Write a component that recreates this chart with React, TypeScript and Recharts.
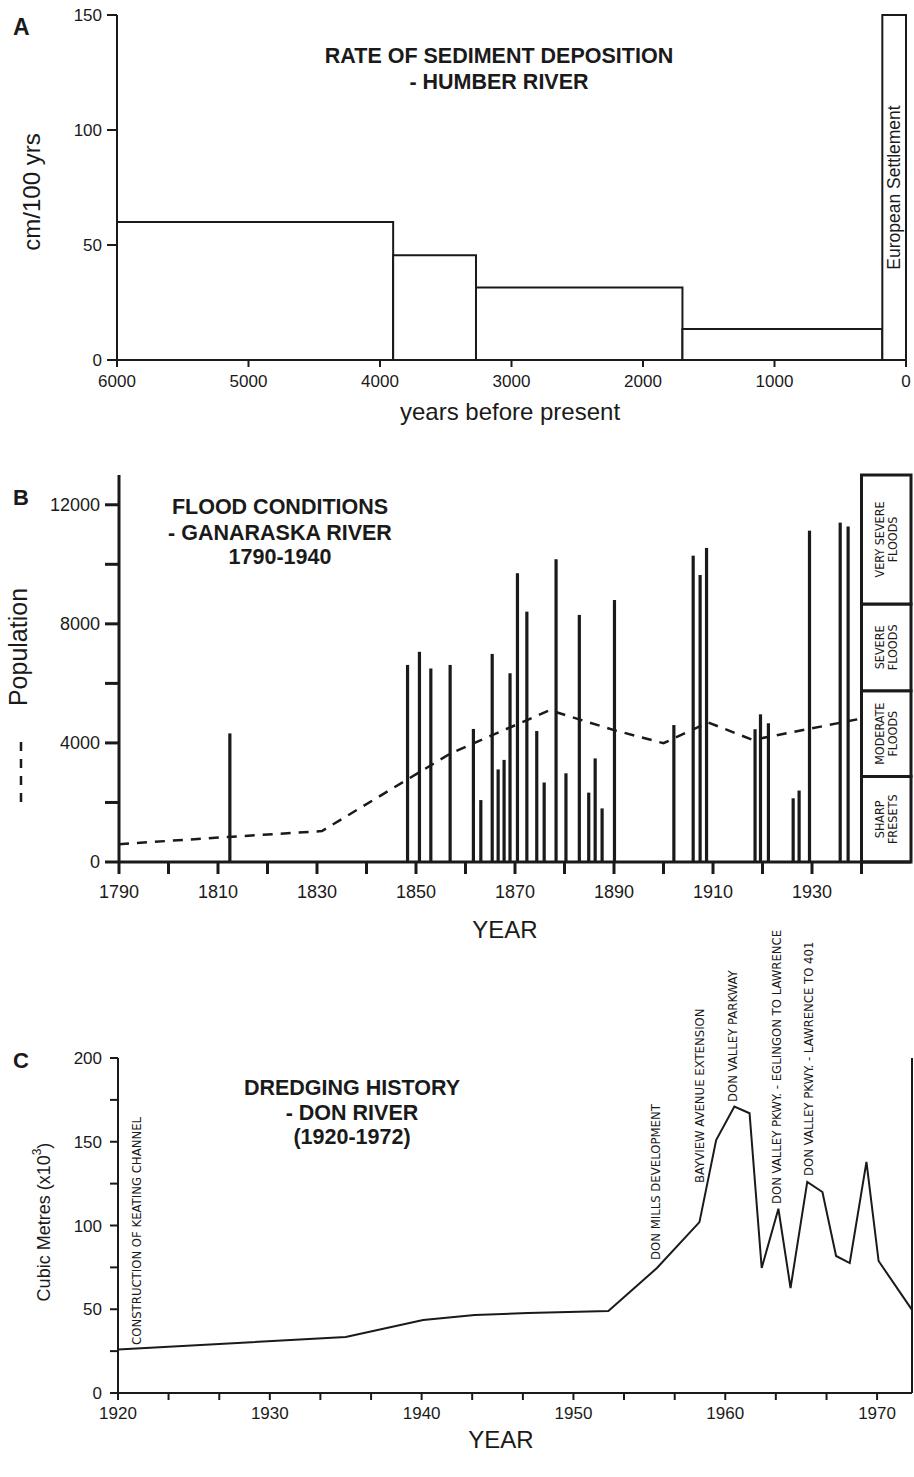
import React from 'react';
import {
  ComposedChart,
  XAxis,
  YAxis,
  Bar,
  Line,
  ReferenceArea,
  ReferenceDot,
  ReferenceLine,
} from 'recharts';

const FONT = '"Liberation Sans", Arial, Helvetica, sans-serif';
const NARROW = '"Liberation Sans Narrow", "DejaVu Sans Condensed", "Liberation Sans", Arial, sans-serif';
const INK = '#1a1a1a';

// Panel A - rate of sediment deposition, Humber River
const periodStart = [6000, 3900, 3270, 1700, 180];
const periodEnd = [3900, 3270, 1700, 180, 0];
const depositionRate = [60, 45.5, 31.5, 13.5, 150];
const periodLabel = ['', '', '', '', 'European Settlement'];
const yearsBpTicks = [0, 1000, 2000, 3000, 4000, 5000, 6000];
const rateTicks = [0, 50, 100, 150];

// Panel B - flood conditions, Ganaraska River
const floodYears = [
  1812.4, 1848.3, 1850.7, 1853, 1856.9, 1861.6, 1863.1, 1865.4, 1866.6, 1867.8, 1869, 1870.5,
  1872.4, 1874.4, 1875.9, 1878.3, 1880.3, 1883, 1884.9, 1886.2, 1887.6, 1890.1, 1902.1, 1906,
  1907.4, 1908.7, 1918.5, 1919.6, 1921.2, 1926.2, 1927.4, 1929.5, 1935.7, 1937.3,
];
const floodValues = [
  4320, 6620, 7060, 6500, 6620, 4470, 2080, 6990, 3110, 3430, 6340, 9700,
  8410, 4400, 2670, 10170, 2980, 8300, 2330, 3480, 1800, 8800, 4600, 10290,
  9640, 10550, 4460, 4960, 4660, 2140, 2400, 11130, 11400, 11270,
];
const popYears = [1790, 1812, 1831, 1857, 1877, 1890, 1900, 1909, 1918, 1930, 1940];
const popValues = [600, 840, 1040, 3650, 5100, 4430, 3990, 4690, 4100, 4490, 4820];
const classLow = [0, 2870, 5750, 8670];
const classHigh = [2870, 5750, 8670, 13000];
const classLine1 = ['SHARP', 'MODERATE', 'SEVERE', 'VERY SEVERE'];
const classLine2 = ['FRESETS', 'FLOODS', 'FLOODS', 'FLOODS'];
const yearTicksB = [1790, 1800, 1810, 1820, 1830, 1840, 1850, 1860, 1870, 1880, 1890, 1900, 1910, 1920, 1930, 1940];
const popTicks = [0, 2000, 4000, 6000, 8000, 10000, 12000];

// Panel C - dredging history, Don River
const dredgeYears = [
  1920, 1935, 1940.1, 1943.5, 1947, 1952.3, 1955.5, 1958.3, 1959.4, 1960.6, 1961.6,
  1962.4, 1963.5, 1964.3, 1965.4, 1966.4, 1967.3, 1968.2, 1969.3, 1970.1, 1972.3,
];
const dredgeVolume = [
  26, 33.4, 43.6, 46.5, 47.8, 49, 74.6, 102, 151, 171, 167,
  74.6, 110, 62.7, 126, 120, 81.8, 77.6, 138, 78.8, 49.6,
];
const eventYears = [1921.25, 1955.4, 1958.3, 1960.5, 1963.4, 1965.5];
const eventBase = [28.7, 79.4, 125.4, 173.7, 112.8, 129.6];
const eventText = [
  'CONSTRUCTION OF KEATING CHANNEL',
  'DON MILLS DEVELOPMENT',
  'BAYVIEW AVENUE EXTENSION',
  'DON VALLEY PARKWAY',
  'DON VALLEY PKWY. - EGLINGON TO LAWRENCE',
  'DON VALLEY PKWY. - LAWRENCE TO 401',
];
const yearTicksC = [
  1920, 1923.33, 1926.67, 1930, 1933.33, 1936.67, 1940, 1943.33, 1946.67, 1950,
  1953.33, 1956.67, 1960, 1963.33, 1966.67, 1970,
];
const volumeTicks = [0, 25, 50, 75, 100, 125, 150, 175, 200];

const rowsA = periodStart.map((s, i) => ({ start: s, end: periodEnd[i], rate: depositionRate[i] }));

const rowsB = [
  ...floodYears.map((y, i) => ({ year: y, flood: floodValues[i] })),
  ...popYears.map((y, i) => ({ year: y, pop: popValues[i] })),
].sort((a, b) => a.year - b.year);

const rowsC = dredgeYears.map((y, i) => ({ year: y, volume: dredgeVolume[i] }));

const tickStyle = (size: number) => ({ fill: INK, fontSize: size, fontFamily: FONT });

// flood events are drawn as thick vertical strokes centred on the year
const FloodStroke = (props: any) => {
  const { x, y, width, height } = props;
  if (height == null || isNaN(height) || height <= 0) return null;
  const cx = x + width / 2;
  return <rect x={cx - 1.6} y={y} width={3.2} height={height} fill={INK} />;
};

// two-line rotated caption inside the flood class boxes
const ClassLabel = (props: any) => {
  const { viewBox, index } = props;
  const cx = viewBox.x + viewBox.width / 2;
  const cy = viewBox.y + viewBox.height / 2;
  return (
    <g>
      <text x={cx - 7} y={cy} transform={`rotate(-90 ${cx - 7} ${cy})`} textAnchor="middle"
        dominantBaseline="central" fontSize={12.5} fontFamily={NARROW} fill={INK}>
        {classLine1[index]}
      </text>
      <text x={cx + 6} y={cy} transform={`rotate(-90 ${cx + 6} ${cy})`} textAnchor="middle"
        dominantBaseline="central" fontSize={12.5} fontFamily={NARROW} fill={INK}>
        {classLine2[index]}
      </text>
    </g>
  );
};

// vertical event caption, reading upwards from the anchor point
const EventLabel = (props: any) => {
  const { viewBox, text } = props;
  const x = viewBox.x + (viewBox.width || 0) / 2;
  const y = viewBox.y + (viewBox.height || 0) / 2;
  return (
    <text x={x} y={y} transform={`rotate(-90 ${x} ${y})`} textAnchor="start"
      dominantBaseline="central" fontSize={13} fontFamily={NARROW} fill={INK}>
      {text}
    </text>
  );
};

const App = () => {
  return (
    <div style={{ position: 'absolute', left: 0, top: 0, width: 914, height: 1477, background: '#fff' }}>
      {/* A */}
      <div style={{ position: 'absolute', left: 0, top: 0 }}>
        <ComposedChart width={914} height={440} data={rowsA} margin={{ top: 15, right: 8, bottom: 50, left: 0 }}>
          <XAxis type="number" dataKey="start" domain={[0, 6000]} reversed ticks={yearsBpTicks} interval={0}
            height={30} tickSize={7} tickMargin={8} tick={tickStyle(17)}
            axisLine={{ stroke: INK, strokeWidth: 2 }} tickLine={{ stroke: INK, strokeWidth: 2 }} />
          <YAxis type="number" domain={[0, 150]} ticks={rateTicks} interval={0} width={117}
            tickSize={10} tickMargin={5} tick={tickStyle(17)}
            axisLine={{ stroke: INK, strokeWidth: 2 }} tickLine={{ stroke: INK, strokeWidth: 2 }} />
          {periodStart.map((s, i) => (
            <ReferenceArea key={`p-${i}`} x1={s} x2={periodEnd[i]} y1={0} y2={depositionRate[i]}
              fill="#fff" fillOpacity={1} stroke={INK} strokeWidth={2}
              label={periodLabel[i] ? { value: periodLabel[i], angle: -90, position: 'center', fill: INK, fontSize: 17.5, fontFamily: FONT } : undefined} />
          ))}
          <Line dataKey="rate" stroke="none" dot={false} isAnimationActive={false} />
        </ComposedChart>
      </div>

      {/* B */}
      <div style={{ position: 'absolute', left: 0, top: 440 }}>
        <ComposedChart width={914} height={510} data={rowsB} margin={{ top: 35, right: 3, bottom: 58, left: 0 }}>
          <XAxis type="number" dataKey="year" domain={[1790, 1950]} ticks={yearTicksB} interval={0}
            tickFormatter={(v: number) => ((v - 1790) % 20 === 0 && v <= 1930 ? String(v) : '')}
            height={30} tickSize={12} tickMargin={11} tick={tickStyle(18)}
            axisLine={{ stroke: INK, strokeWidth: 3 }} tickLine={{ stroke: INK, strokeWidth: 3 }} />
          <YAxis type="number" domain={[0, 13000]} ticks={popTicks} interval={0} width={119}
            tickFormatter={(v: number) => (v % 4000 === 0 ? String(v) : '')}
            tickSize={14} tickMargin={5} tick={tickStyle(18)}
            axisLine={{ stroke: INK, strokeWidth: 3 }} tickLine={{ stroke: INK, strokeWidth: 3 }} />
          {classLow.map((lo, i) => (
            <ReferenceArea key={`c-${i}`} x1={1940} x2={1950} y1={lo} y2={classHigh[i]}
              fill="#fff" fillOpacity={1} stroke={INK} strokeWidth={3}
              label={<ClassLabel index={i} />} />
          ))}
          <Bar dataKey="flood" fill={INK} barSize={3} shape={<FloodStroke />} isAnimationActive={false} />
          <Line dataKey="pop" type="linear" connectNulls stroke={INK} strokeWidth={2.5}
            strokeDasharray="10 8" dot={false} isAnimationActive={false} />
        </ComposedChart>
      </div>

      {/* C */}
      <div style={{ position: 'absolute', left: 0, top: 930 }}>
        <ComposedChart width={914} height={547} data={rowsC} margin={{ top: 128, right: 2, bottom: 54, left: 0 }}>
          <XAxis type="number" dataKey="year" domain={[1920, 1972.3]} ticks={yearTicksC} interval={0}
            tickFormatter={(v: number) => (Math.abs(v - Math.round(v / 10) * 10) < 0.01 ? String(Math.round(v)) : '')}
            height={30} tickSize={7} tickMargin={7} tick={tickStyle(17)}
            axisLine={{ stroke: INK, strokeWidth: 2 }} tickLine={{ stroke: INK, strokeWidth: 2 }} />
          <YAxis type="number" domain={[0, 200]} ticks={volumeTicks} interval={0} width={118}
            tickFormatter={(v: number) => (v % 50 === 0 ? String(v) : '')}
            tickSize={8} tickMargin={8} tick={tickStyle(17)}
            axisLine={{ stroke: INK, strokeWidth: 2 }} tickLine={{ stroke: INK, strokeWidth: 2 }} />
          <ReferenceLine x={1972.3} stroke={INK} strokeWidth={2} />
          <Line dataKey="volume" type="linear" stroke={INK} strokeWidth={2} dot={false} isAnimationActive={false} />
          {eventYears.map((y, i) => (
            <ReferenceDot key={`e-${i}`} x={y} y={eventBase[i]} r={0} fill="none" stroke="none"
              label={<EventLabel text={eventText[i]} />} />
          ))}
        </ComposedChart>
      </div>

      {/* titles, panel letters, axis titles */}
      <svg width={914} height={1477} style={{ position: 'absolute', left: 0, top: 0, pointerEvents: 'none' }}
        fontFamily={FONT} fill={INK}>
        <text x={13} y={35} fontSize={23} fontWeight="bold">A</text>
        <text x={499} y={63} fontSize={21.5} fontWeight="bold" textAnchor="middle">RATE OF SEDIMENT DEPOSITION</text>
        <text x={499} y={89} fontSize={21.5} fontWeight="bold" textAnchor="middle">- HUMBER RIVER</text>
        <text x={31} y={192} fontSize={24} textAnchor="middle" dominantBaseline="central"
          transform="rotate(-90 31 192)">cm/100 yrs</text>
        <text x={510} y={420} fontSize={24} textAnchor="middle">years before present</text>

        <text x={13} y={505} fontSize={22} fontWeight="bold">B</text>
        <text x={280} y={514} fontSize={21.5} fontWeight="bold" textAnchor="middle">FLOOD CONDITIONS</text>
        <text x={280} y={540} fontSize={21.5} fontWeight="bold" textAnchor="middle">- GANARASKA RIVER</text>
        <text x={280} y={564} fontSize={21.5} fontWeight="bold" textAnchor="middle">1790-1940</text>
        <text x={18} y={647} fontSize={25} textAnchor="middle" dominantBaseline="central"
          transform="rotate(-90 18 647)">Population</text>
        <line x1={21} y1={742} x2={21} y2={806} stroke={INK} strokeWidth={2.5} strokeDasharray="9 8" />
        <text x={505} y={938} fontSize={24} textAnchor="middle">YEAR</text>

        <text x={13} y={1068} fontSize={22} fontWeight="bold">C</text>
        <text x={352} y={1095} fontSize={21.5} fontWeight="bold" textAnchor="middle">DREDGING HISTORY</text>
        <text x={352} y={1120} fontSize={21.5} fontWeight="bold" textAnchor="middle">- DON RIVER</text>
        <text x={352} y={1144} fontSize={21.5} fontWeight="bold" textAnchor="middle">(1920-1972)</text>
        <text x={44} y={1222} fontSize={18} textAnchor="middle" dominantBaseline="central"
          transform="rotate(-90 44 1222)">
          Cubic Metres (x10<tspan dy={-7} fontSize={12}>3</tspan><tspan dy={7}>)</tspan>
        </text>
        <text x={501} y={1448} fontSize={24} textAnchor="middle">YEAR</text>
      </svg>
    </div>
  );
};

export default App;
